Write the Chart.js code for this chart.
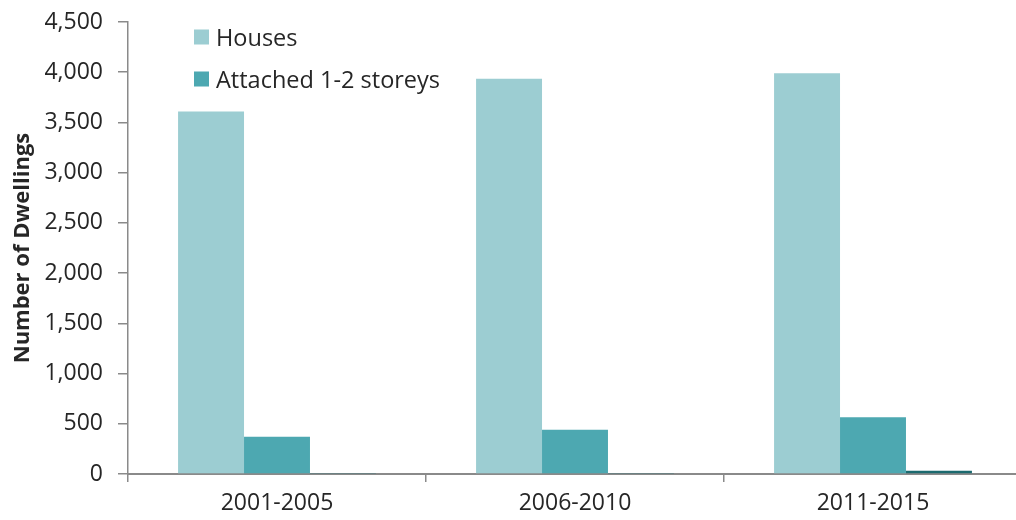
<!DOCTYPE html>
<html>
<head>
<meta charset="utf-8">
<script src="https://cdn.jsdelivr.net/npm/chart.js@4/dist/chart.umd.min.js"></script>
<style>
  html, body { margin: 0; padding: 0; background: #fff; overflow: hidden; }
  #wrap { width: 1024px; height: 520px; }
</style>
</head>
<body>
<div id="wrap"><canvas id="c" width="1024" height="520"></canvas></div>
<script>
// Dwelling approvals by period and dwelling type
const periods = ['2001-2005', '2006-2010', '2011-2015'];
const houses = [3610, 3935, 3990];
const attachedLow = [370, 440, 565];
const attachedHigh = [5, 5, 32];
const yTicks = { min: 0, max: 4500, step: 500 };

const FONT = '"Open Sans", "Liberation Sans", sans-serif';
const AXIS = '#8a8a8a';
const TEXT = '#262626';

// Two-row legend in the upper-left of the plot area (third series omitted)
const insideLegend = {
  id: 'insideLegend',
  afterDraw(chart) {
    const ctx = chart.ctx;
    const items = chart.data.datasets.filter(d => d.showInLegend !== false);
    ctx.save();
    ctx.font = '23.5px ' + FONT;
    ctx.textBaseline = 'middle';
    ctx.textAlign = 'left';
    items.forEach((d, i) => {
      const cy = 37 + i * 42;
      ctx.fillStyle = d.backgroundColor;
      ctx.fillRect(194, cy - 7.5, 15, 15);
      ctx.fillStyle = TEXT;
      ctx.fillText(d.label, 216, cy + 2);
    });
    ctx.restore();
  }
};

new Chart(document.getElementById('c'), {
  type: 'bar',
  data: {
    labels: periods,
    datasets: [
      { label: 'Houses', data: houses, backgroundColor: '#9ccdd2' },
      { label: 'Attached 1-2 storeys', data: attachedLow, backgroundColor: '#4da8b1' },
      { label: 'Attached 3+ storeys', data: attachedHigh, backgroundColor: '#1b6a6f', showInLegend: false }
    ]
  },
  options: {
    responsive: false,
    animation: false,
    devicePixelRatio: 1,
    layout: { padding: { top: 22, right: 2, left: 0, bottom: 0 } },
    datasets: { bar: { categoryPercentage: 0.664, barPercentage: 1.0 } },
    plugins: { legend: { display: false }, tooltip: { enabled: false } },
    scales: {
      x: {
        border: { display: true, color: AXIS, width: 2 },
        grid: { offset: true, drawOnChartArea: false, drawTicks: true, tickLength: 8, color: AXIS, lineWidth: 1.5 },
        ticks: { color: TEXT, font: { family: FONT, size: 23 }, padding: 8 },
        afterFit(s) { s.height = 46; s.paddingLeft = 0; s.paddingRight = 0; }
      },
      y: {
        min: yTicks.min,
        max: yTicks.max,
        border: { display: true, color: AXIS, width: 1.5 },
        grid: { drawOnChartArea: false, drawTicks: true, tickLength: 10, color: AXIS, lineWidth: 1.5 },
        ticks: { stepSize: yTicks.step, color: TEXT, font: { family: FONT, size: 23 }, padding: 15 },
        title: {
          display: true,
          text: 'Number of Dwellings',
          color: TEXT,
          font: { family: FONT, size: 22, weight: 'bold' },
          padding: { top: 10, bottom: 0 }
        },
        afterFit(s) { s.width = 128; s.paddingTop = 0; s.paddingBottom = 0; }
      }
    }
  },
  plugins: [insideLegend]
});
</script>
</body>
</html>
